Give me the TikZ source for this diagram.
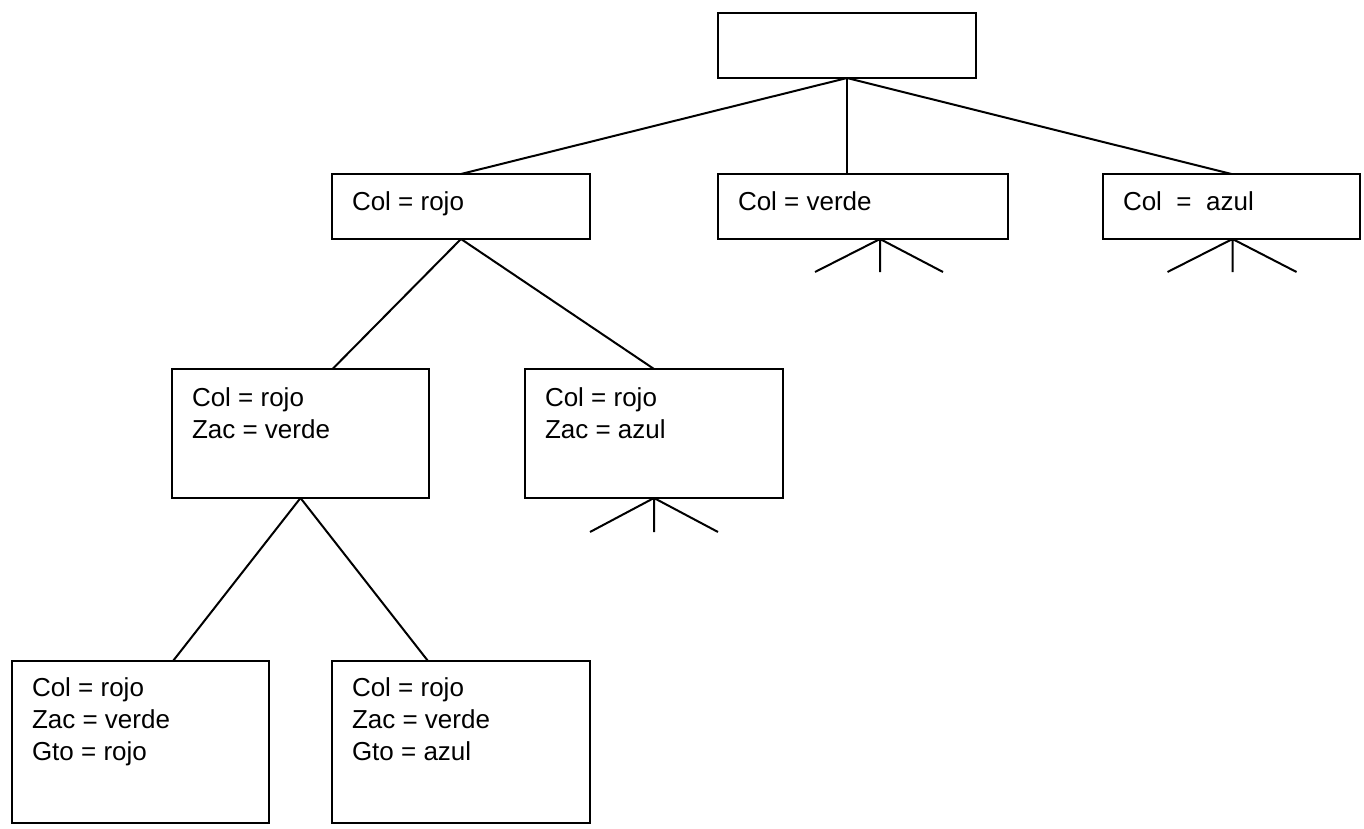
\documentclass[tikz,border=0pt]{standalone}
\usepackage{fontspec}
\setmainfont{Liberation Sans}
\usetikzlibrary{calc}
\begin{document}
\begin{tikzpicture}[x=1pt,y=-1pt,
  box/.style={draw, line width=2pt, inner sep=0pt, outer sep=0pt, anchor=north west},
  lab/.style={anchor=base west, inner sep=0pt, outer sep=0pt, font=\fontsize{26}{32}\selectfont},
  link/.style={line width=2pt}]
\useasboundingbox (0,0) rectangle (1364,829);
% boxes
\node[box, minimum width=258pt, minimum height=65pt]  (root) at (718,13) {};
\node[box, minimum width=258pt, minimum height=65pt]  (c1) at (332,174) {};
\node[box, minimum width=290pt, minimum height=65pt]  (c2) at (718,174) {};
\node[box, minimum width=257pt, minimum height=65pt]  (c3) at (1103,174) {};
\node[box, minimum width=257pt, minimum height=129pt] (z1) at (172,369) {};
\node[box, minimum width=258pt, minimum height=129pt] (z2) at (525,369) {};
\node[box, minimum width=257pt, minimum height=162pt] (g1) at (12,661) {};
\node[box, minimum width=258pt, minimum height=162pt] (g2) at (332,661) {};
% texts
\node[lab] (t1) at ($(c1.north west)+(20,37)$) {Col = rojo};
\node[lab] (t2) at ($(c2.north west)+(20,37)$) {Col = verde};
\node[lab] (t3) at ($(c3.north west)+(20,37)$) {Col \ = \ azul};
\node[lab] (t4) at ($(z1.north west)+(20,37)$) {\begin{tabular}[t]{@{}l@{}}Col = rojo\\Zac = verde\end{tabular}};
\node[lab] (t5) at ($(z2.north west)+(20,37)$) {\begin{tabular}[t]{@{}l@{}}Col = rojo\\Zac = azul\end{tabular}};
\node[lab] (t6) at ($(g1.north west)+(20,35)$) {\begin{tabular}[t]{@{}l@{}}Col = rojo\\Zac = verde\\Gto = rojo\end{tabular}};
\node[lab] (t7) at ($(g2.north west)+(20,35)$) {\begin{tabular}[t]{@{}l@{}}Col = rojo\\Zac = verde\\Gto = azul\end{tabular}};
% connectors
\draw[link] (root.south) -- (c1.north);
\draw[link] (root.south) -- (root.south |- c2.north);
\draw[link] (root.south) -- (c3.north);
\draw[link] (c1.south) -- ($(z1.north)+(32,0)$);
\draw[link] (c1.south) -- (z2.north);
\draw[link] (z1.south) -- ($(g1.north)+(32.5,0)$);
\draw[link] (z1.south) -- ($(g2.north)+(-33,0)$);
% fans
\coordinate (f2) at ($(c2.south)+(17,0)$);
\coordinate (f2l) at ($(f2)+(-65,33)$);
\coordinate (f2m) at ($(f2)+(0,33)$);
\coordinate (f2r) at ($(f2)+(63,33)$);
\draw[link] (f2) -- (f2l) (f2) -- (f2m) (f2) -- (f2r);
\coordinate (f3) at ($(c3.south)+(1,0)$);
\coordinate (f3l) at ($(f3)+(-65,33)$);
\coordinate (f3m) at ($(f3)+(0,33)$);
\coordinate (f3r) at ($(f3)+(64,33)$);
\draw[link] (f3) -- (f3l) (f3) -- (f3m) (f3) -- (f3r);
\coordinate (f5) at (z2.south);
\coordinate (f5l) at ($(f5)+(-64,34)$);
\coordinate (f5m) at ($(f5)+(0,34)$);
\coordinate (f5r) at ($(f5)+(64,34)$);
\draw[link] (f5) -- (f5l) (f5) -- (f5m) (f5) -- (f5r);
\end{tikzpicture}
\end{document}
